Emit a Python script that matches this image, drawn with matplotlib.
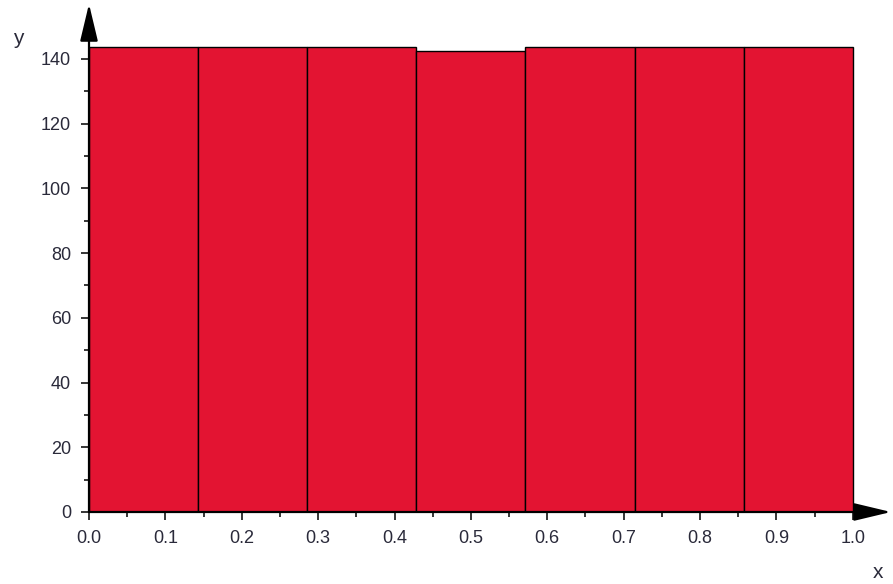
import numpy as np
import matplotlib
matplotlib.use("Agg")
import matplotlib.pyplot as plt

plt.rcParams['font.family'] = ['Liberation Sans', 'DejaVu Sans']

# Datos: 7 clases entre 0 y 1, alturas
bordes = np.linspace(0.0, 1.0, 8)
alturas = [143.8, 143.8, 143.8, 142.4, 143.8, 143.8, 143.8]
xticks = [0.0, 0.1, 0.2, 0.3, 0.4, 0.5, 0.6, 0.7, 0.8, 0.9, 1.0]
yticks = [0, 20, 40, 60, 80, 100, 120, 140]

ymax = 157
fig = plt.figure(figsize=(8.93, 5.84), dpi=100)
ax = fig.add_axes([89 / 893, 72 / 584, 802 / 893, ymax * 3.236 / 584])

ax.bar(bordes[:-1], alturas, width=np.diff(bordes), align='edge',
       color='#E31432', edgecolor='black', linewidth=1.0, zorder=2)

ax.set_xlim(0, 1.05)
ax.set_ylim(0, ymax)
for s in ax.spines.values():
    s.set_visible(False)

# ejes con flechas
flecha = dict(arrowstyle='-|>,head_length=2.3,head_width=0.55', mutation_scale=10,
              color='black', lw=1.6, shrinkA=0, shrinkB=0)
ax.annotate('', xy=(1.05, 0), xytext=(0, 0), arrowprops=flecha,
            annotation_clip=False, zorder=5)
ax.annotate('', xy=(0, ymax), xytext=(0, 0), arrowprops=flecha,
            annotation_clip=False, zorder=5)

ax.set_xticks(xticks)
ax.set_xticklabels([f"{v:.1f}" for v in xticks])
ax.set_xticks(np.arange(0.05, 1.0, 0.1), minor=True)
ax.set_yticks(yticks)
ax.set_yticklabels([str(v) for v in yticks])
ax.set_yticks(np.arange(10, 150, 20), minor=True)

col_txt = '#2a2a3a'
ax.tick_params(which='major', direction='inout', length=12, width=1.1,
               labelsize=13, labelcolor=col_txt)
ax.tick_params(which='minor', direction='inout', length=7, width=1.1)
ax.tick_params(axis='y', which='major', pad=7)
ax.tick_params(axis='x', which='major', pad=7)

fig.text(18 / 893, 1 - 38 / 584, 'y', fontsize=15, color=col_txt, ha='center', va='center')
fig.text(878 / 893, 1 - 573 / 584, 'x', fontsize=15, color=col_txt, ha='center', va='center')

plt.savefig("out.png", dpi=100)
